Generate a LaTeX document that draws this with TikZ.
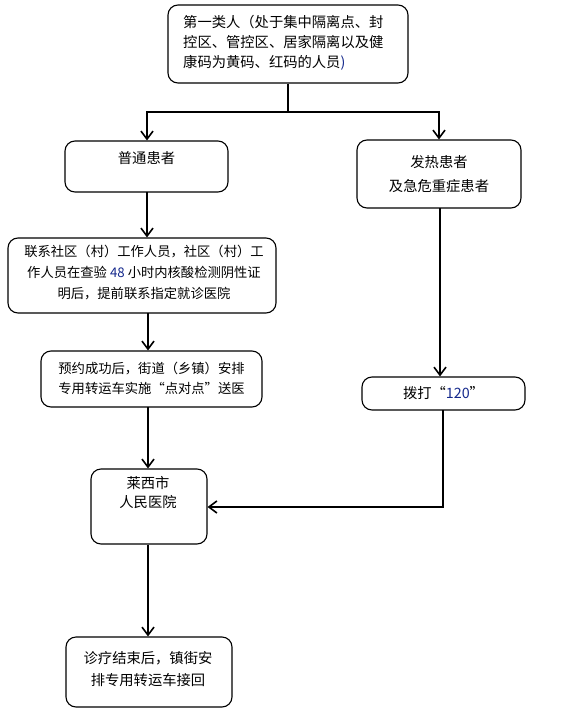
\documentclass[tikz,border=0pt]{standalone}
\usepackage{fontspec}
\setmainfont{Noto Sans CJK SC}
\usetikzlibrary{arrows.meta}
\definecolor{numblue}{RGB}{20,40,140}
\begin{document}
\begin{tikzpicture}[x=1pt,y=-1pt,
  box/.style={draw=black,line width=1.1pt,rounded corners=10pt,inner sep=0pt},
  txt/.style={inner sep=0pt,font=\fontsize{14.3pt}{20pt}\selectfont},
  smalltxt/.style={inner sep=0pt,font=\fontsize{13.3pt}{21pt}\selectfont},
  conn/.style={line width=1.6pt,-{Straight Barb[length=8pt,width=12pt,line width=1.6pt]}},
  plain/.style={line width=1.6pt}]
\useasboundingbox (0,0) rectangle (563,720);
\fill[white] (0,0) rectangle (563,720);
% boxes
\node[box,minimum width=240pt,minimum height=78pt] (b1) at (288,44) {};
\node[txt,align=left,anchor=west] (t1) at (183,43) {第一类人（处于集中隔离点、封\\控区、管控区、居家隔离以及健\\康码为黄码、红码的人员\textcolor{numblue}{)}};
\node[box,minimum width=163pt,minimum height=51pt] (b2) at (146.5,166.5) {};
\node[txt] (t2) at (146.5,158) {普通患者};
\node[box,minimum width=164pt,minimum height=68pt] (b3) at (439,174) {};
\node[txt,align=center,font=\fontsize{14.3pt}{24pt}\selectfont] (t3) at (439,174) {发热患者\\及急危重症患者};
\node[box,minimum width=268pt,minimum height=75pt] (b4) at (142,275.5) {};
\node[smalltxt,align=center] (t4) at (144,273) {联系社区（村）工作人员，社区（村）工\\作人员在查验 \textcolor{numblue}{48} 小时内核酸检测阴性证\\明后，提前联系指定就诊医院};
\node[box,minimum width=221pt,minimum height=56pt] (b5) at (151.5,379) {};
\node[smalltxt,align=center,font=\fontsize{13.3pt}{20pt}\selectfont] (t5) at (151.5,378) {预约成功后，街道（乡镇）安排\\专用转运车实施“点对点”送医};
\node[box,minimum width=116pt,minimum height=75pt] (b6) at (149,506.5) {};
\node[txt,align=center,font=\fontsize{14.3pt}{19pt}\selectfont] (t6) at (148,493) {莱西市\\人民医院};
\node[box,minimum width=163pt,minimum height=33pt] (b7) at (443.5,393.5) {};
\node[txt] (t7) at (443.5,393.5) {拨打“\textcolor{numblue}{120}”};
\node[box,minimum width=166pt,minimum height=70pt] (b8) at (149,672) {};
\node[txt,align=center,font=\fontsize{14.3pt}{22pt}\selectfont] (t8) at (148,669) {诊疗结束后，镇街安\\排专用转运车接回};
% connectors
\coordinate (split) at (288,112);
\coordinate (sl) at (147,112);
\coordinate (sr) at (439,112);
\draw[plain] (b1.south) -- (split);
\draw[conn] (split) -- (sl) -- (sl |- b2.north);
\draw[conn] (split) -- (sr) -- (b3.north);
\coordinate (c2) at (147,192);
\draw[conn] (c2) -- (c2 |- b4.north);
\coordinate (c4) at (148,313);
\draw[conn] (c4) -- (c4 |- b5.north);
\coordinate (c5) at (148,407);
\draw[conn] (c5) -- (c5 |- b6.north);
\coordinate (c3) at (440,208);
\draw[conn] (c3) -- (c3 |- b7.north);
\coordinate (c7) at (443,410);
\coordinate (c7b) at (443,507);
\draw[conn] (c7) -- (c7b) -- (c7b -| b6.east);
\draw[conn] (b6.south -| c5) -- (c5 |- b8.north);
\end{tikzpicture}
\end{document}
